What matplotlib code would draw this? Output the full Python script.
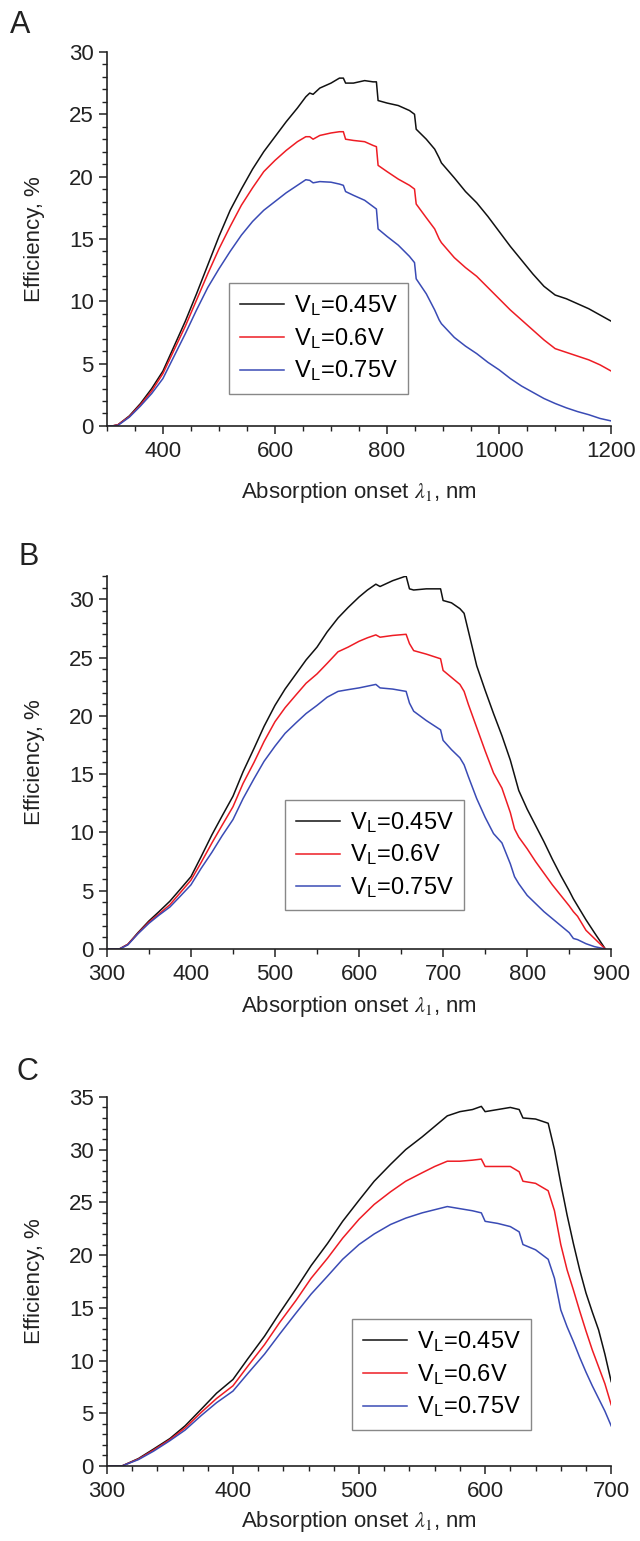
import matplotlib
matplotlib.use("Agg")
import matplotlib.pyplot as plt
from matplotlib.ticker import MultipleLocator

plt.rcParams['font.family'] = ['Liberation Sans', 'DejaVu Sans']
plt.rcParams['mathtext.fontset'] = 'stix'

# panel A: x range 300-1200 nm
xA = [300, 310, 320, 340, 360, 380, 400, 420, 440, 460, 480, 500, 520, 540, 560, 580, 600,
      620, 640, 655, 662, 668, 680, 700, 715, 722, 726, 740, 760, 775, 781, 784, 800, 820,
      840, 849, 852, 870, 885, 893, 897, 920, 940, 960, 980, 1000, 1020, 1040, 1060, 1080,
      1100, 1120, 1140, 1160, 1180, 1200]
a045 = [0, 0, 0.1, 0.8, 1.8, 3.0, 4.4, 6.4, 8.4, 10.6, 12.9, 15.2, 17.3, 19.0, 20.6, 22.0, 23.2,
        24.4, 25.5, 26.4, 26.7, 26.6, 27.1, 27.5, 27.9, 27.9, 27.5, 27.5, 27.7, 27.6, 27.6, 26.1,
        25.9, 25.7, 25.3, 25.0, 23.8, 23.0, 22.2, 21.5, 21.1, 19.9, 18.8, 17.9, 16.8, 15.6, 14.4,
        13.3, 12.2, 11.2, 10.5, 10.2, 9.8, 9.4, 8.9, 8.4]
a06 = [0, 0, 0.1, 0.75, 1.7, 2.8, 4.2, 6.1, 8.0, 10.1, 12.2, 14.2, 16.0, 17.7, 19.1, 20.4, 21.3,
       22.1, 22.8, 23.2, 23.2, 23.0, 23.3, 23.5, 23.6, 23.6, 23.0, 22.9, 22.8, 22.5, 22.4, 20.9,
       20.4, 19.8, 19.3, 19.0, 17.8, 16.7, 15.8, 15.0, 14.7, 13.5, 12.7, 12.0, 11.1, 10.2, 9.3,
       8.5, 7.7, 6.9, 6.2, 5.9, 5.6, 5.3, 4.9, 4.4]
a075 = [0, 0, 0.05, 0.7, 1.6, 2.6, 3.8, 5.6, 7.4, 9.3, 11.1, 12.6, 14.0, 15.3, 16.4, 17.3, 18.0,
        18.7, 19.3, 19.75, 19.7, 19.5, 19.6, 19.55, 19.4, 19.3, 18.8, 18.5, 18.1, 17.6, 17.4, 15.8,
        15.2, 14.5, 13.6, 13.1, 11.8, 10.6, 9.3, 8.5, 8.2, 7.1, 6.4, 5.8, 5.1, 4.5, 3.8,
        3.2, 2.7, 2.2, 1.8, 1.45, 1.15, 0.9, 0.6, 0.4]

# panel B: x range 300-900 nm
xB = [300, 315, 325, 337, 350, 362, 375, 387, 400, 412, 425, 437, 450, 462, 475, 487, 500,
      512, 525, 537, 550, 562, 575, 587, 600, 610, 620, 625, 640, 656, 660, 665, 680, 697,
      700, 710, 720, 725, 730, 740, 750, 760, 770, 780, 785, 790, 800, 810, 820, 830, 840,
      850, 855, 860, 870, 880, 893]
b045 = [0, 0, 0.4, 1.4, 2.4, 3.2, 4.1, 5.1, 6.2, 7.9, 9.8, 11.4, 13.1, 15.2, 17.2, 19.1, 20.9,
        22.3, 23.6, 24.8, 25.9, 27.2, 28.4, 29.3, 30.2, 30.8, 31.3, 31.1, 31.6, 32.0, 30.9, 30.8,
        30.9, 30.9, 29.9, 29.7, 29.2, 28.8, 27.3, 24.3, 22.2, 20.2, 18.3, 16.2, 14.9, 13.6, 12.0,
        10.6, 9.2, 7.7, 6.3, 5.0, 4.3, 3.7, 2.5, 1.4, 0]
b06 = [0, 0, 0.4, 1.35, 2.3, 3.0, 3.8, 4.8, 5.9, 7.4, 9.1, 10.6, 12.2, 14.2, 16.0, 17.8, 19.5,
       20.7, 21.8, 22.8, 23.6, 24.5, 25.5, 25.9, 26.4, 26.7, 26.95, 26.75, 26.9, 27.0, 26.2, 25.6,
       25.3, 24.9, 23.9, 23.3, 22.7, 22.1, 21.0, 19.0, 17.0, 15.1, 13.8, 11.7, 10.3, 9.6, 8.6,
       7.5, 6.5, 5.5, 4.6, 3.7, 3.2, 2.8, 1.6, 0.9, 0]
b075 = [0, 0, 0.35, 1.3, 2.2, 2.9, 3.6, 4.5, 5.5, 6.9, 8.3, 9.7, 11.1, 12.9, 14.6, 16.1, 17.4,
        18.5, 19.4, 20.2, 20.9, 21.6, 22.1, 22.25, 22.4, 22.55, 22.7, 22.4, 22.3, 22.1, 21.1, 20.4,
        19.6, 18.8, 17.9, 17.1, 16.4, 15.8, 14.8, 12.9, 11.3, 9.9, 9.1, 7.3, 6.2, 5.6, 4.6,
        3.9, 3.2, 2.6, 2.0, 1.4, 0.9, 0.8, 0.45, 0.2, 0]

# panel C: x range 300-700 nm
xC = [300, 312, 325, 337, 350, 362, 375, 387, 400, 412, 425, 437, 450, 462, 475, 487, 500,
      512, 525, 537, 550, 560, 570, 580, 590, 597, 600, 610, 620, 627, 630, 640, 650, 655,
      660, 665, 670, 675, 680, 685, 690, 695, 700]
c045 = [0, 0, 0.7, 1.6, 2.6, 3.8, 5.4, 6.9, 8.2, 10.2, 12.3, 14.5, 16.8, 19.0, 21.1, 23.2, 25.2,
        27.0, 28.6, 30.0, 31.2, 32.2, 33.2, 33.6, 33.8, 34.1, 33.6, 33.8, 34.0, 33.8, 33.0, 32.9,
        32.5, 30.0, 26.8, 23.8, 21.1, 18.6, 16.4, 14.6, 12.9, 10.6, 8.0]
c06 = [0, 0, 0.65, 1.5, 2.5, 3.6, 5.1, 6.4, 7.6, 9.5, 11.5, 13.6, 15.7, 17.8, 19.7, 21.6, 23.4,
       24.8, 26.0, 27.0, 27.8, 28.4, 28.9, 28.9, 29.0, 29.1, 28.4, 28.4, 28.4, 27.9, 27.0, 26.8,
       26.1, 24.2, 21.0, 18.6, 16.7, 14.7, 12.8, 11.0, 9.4, 7.8, 5.8]
c075 = [0, 0, 0.6, 1.4, 2.4, 3.4, 4.8, 6.0, 7.1, 8.8, 10.6, 12.5, 14.5, 16.3, 18.0, 19.6, 21.0,
        22.0, 22.9, 23.5, 24.0, 24.3, 24.6, 24.4, 24.2, 24.0, 23.2, 23.0, 22.7, 22.2, 21.0, 20.5,
        19.6, 17.8, 14.8, 13.2, 11.8, 10.3, 8.9, 7.6, 6.4, 5.2, 3.8]

labels = [r'V$_\mathregular{L}$=0.45V', r'V$_\mathregular{L}$=0.6V', r'V$_\mathregular{L}$=0.75V']
colors = ['#111111', '#ee1c24', '#3a4bb5']

# name, x, series, xlim, ytop, x major, x minor, axes rect, legend anchor, xlabel pad
panels = [
    ('A', xA, [a045, a06, a075], (300, 1200), 30, 200, 50, [0.167, 0.7236, 0.788, 0.2427], (0.242, 0.382), 13),
    ('B', xB, [b045, b06, b075], (300, 900), 32, 100, 50, [0.167, 0.3842, 0.788, 0.2420], (0.353, 0.400), 6),
    ('C', xC, [c045, c06, c075], (300, 700), 35, 100, 20, [0.167, 0.0487, 0.788, 0.2395], (0.486, 0.398), 5),
]
letter_pos = {'A': (20, 25), 'B': (29, 557), 'C': (27, 1072)}

fig = plt.figure(figsize=(6.4, 15.41), dpi=100)

for name, x, ys, xlim, ytop, xmaj, xmin, rect, legpos, xpad in panels:
    ax = fig.add_axes(rect)
    for y, lab, c in zip(ys, labels, colors):
        ax.plot(x, y, color=c, lw=1.1, label=lab)
    ax.set_xlim(*xlim)
    ax.set_ylim(0, ytop)
    ax.xaxis.set_major_locator(MultipleLocator(xmaj))
    ax.xaxis.set_minor_locator(MultipleLocator(xmin))
    ax.yaxis.set_major_locator(MultipleLocator(5))
    ax.yaxis.set_minor_locator(MultipleLocator(1))
    for s in ['top', 'right']:
        ax.spines[s].set_visible(False)
    for s in ['left', 'bottom']:
        ax.spines[s].set_linewidth(1.2)
        ax.spines[s].set_color('#222222')
    ax.tick_params(which='major', direction='out', length=6, width=1.1, labelsize=16,
                   colors='#222222')
    ax.tick_params(axis='x', which='major', pad=5)
    ax.tick_params(which='minor', direction='out', length=3.5, width=1.0, colors='#222222')
    ax.set_ylabel('Efficiency, %', fontsize=16, color='#222222', labelpad=17)
    ax.set_xlabel(r'Absorption onset $\lambda_1$, nm', fontsize=16, color='#222222', labelpad=xpad)
    leg = ax.legend(loc='upper left', bbox_to_anchor=legpos, borderaxespad=0, fontsize=17,
                    frameon=True, fancybox=False, edgecolor='#888888', framealpha=1,
                    handlelength=1.9, handletextpad=0.4, labelspacing=0.35, borderpad=0.45)
    leg.get_frame().set_linewidth(1.0)
    px, py = letter_pos[name]
    fig.text(px / 640, 1 - py / 1541, name, fontsize=22, ha='center', va='center', color='#222222')

fig.savefig('out.png', dpi=100)
